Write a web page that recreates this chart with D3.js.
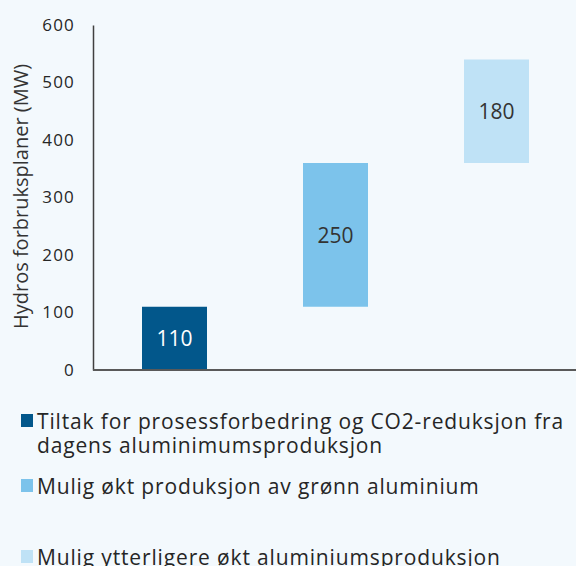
<!DOCTYPE html>
<html><head><meta charset="utf-8">
<script src="https://cdn.jsdelivr.net/npm/d3@7"></script>
<style>
html,body{margin:0;padding:0;background:#f3f9fd;}
svg{display:block;}
text{font-family:"Open Sans",sans-serif;}
</style></head>
<body>
<script>
const categories = ["Tiltak for prosessforbedring og CO2-reduksjon fra dagens aluminimumsproduksjon", "Mulig økt produksjon av grønn aluminium", "Mulig ytterligere økt aluminiumsproduksjon"];
const legendLines = [["Tiltak for prosessforbedring og CO2-reduksjon fra", "dagens aluminimumsproduksjon"], ["Mulig økt produksjon av grønn aluminium"], ["Mulig ytterligere økt aluminiumsproduksjon"]];
const baseValues = [0, 110, 360];
const values = [110, 250, 180];
const colors = ["#02578b", "#7cc3eb", "#bfe2f6"];
const labelColors = ["#ffffff", "#333333", "#333333"];
const yTicks = [0, 100, 200, 300, 400, 500, 600];
const yTitle = "Hydros forbruksplaner (MW)";

const W = 576, H = 566;
const svg = d3.select("body").append("svg").attr("width", W).attr("height", H);
svg.append("rect").attr("width", W).attr("height", H).attr("fill", "#f3f9fd");

const y = d3.scaleLinear().domain([0, 600]).range([370, 25]);
const x = d3.scaleBand().domain(categories).range([93, 576]);
const barW = 65;

// bars
const g = svg.append("g");
g.selectAll("rect.bar").data(categories).join("rect")
  .attr("x", (d) => x(d) + x.bandwidth() / 2 - barW / 2 + 1)
  .attr("width", barW)
  .attr("y", (d, i) => y(baseValues[i] + values[i]))
  .attr("height", (d, i) => y(baseValues[i]) - y(baseValues[i] + values[i]))
  .attr("fill", (d, i) => colors[i]);

g.selectAll("text.val").data(categories).join("text")
  .attr("x", (d) => x(d) + x.bandwidth() / 2 + 1)
  .attr("y", (d, i) => y(baseValues[i] + values[i] / 2) + 8)
  .attr("text-anchor", "middle")
  .attr("font-size", 21)
  .attr("fill", (d, i) => labelColors[i])
  .text((d, i) => values[i]);

// y axis
const yAxis = svg.append("g").attr("transform", "translate(93,0)")
  .call(d3.axisLeft(y).tickValues(yTicks).tickSize(0).tickPadding(18));
yAxis.select(".domain").attr("stroke", "#404040").attr("stroke-width", 1.5);
yAxis.selectAll("text").attr("font-size", 17).attr("fill", "#262626")
  .attr("letter-spacing", 1.2).attr("font-family", "'Open Sans',sans-serif");

// x axis line
svg.append("line").attr("x1", 93).attr("x2", 576).attr("y1", y(0)).attr("y2", y(0))
  .attr("stroke", "#595959").attr("stroke-width", 2);

// y title
svg.append("text")
  .attr("transform", `translate(27.5,${(y(0) + y(600)) / 2 - 1}) rotate(-90)`)
  .attr("text-anchor", "middle")
  .attr("font-size", 20)
  .attr("fill", "#333")
  .text(yTitle);

// legend
const legBase = [429, 494, 565];
legendLines.forEach((lines, i) => {
  svg.append("rect").attr("x", 21).attr("y", legBase[i] - 15).attr("width", 12).attr("height", 13).attr("fill", colors[i]);
  lines.forEach((ln, j) => {
    svg.append("text").attr("x", 37).attr("y", legBase[i] + j * 24)
      .attr("font-size", 21).attr("letter-spacing", 0.85).attr("fill", "#262626").text(ln);
  });
});
</script>
</body></html>
